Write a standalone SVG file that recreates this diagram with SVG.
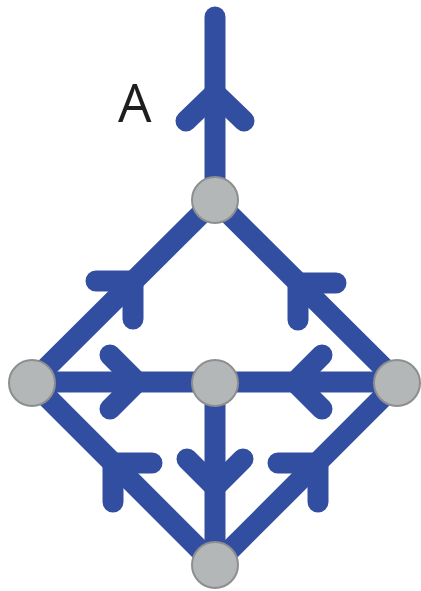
<svg xmlns="http://www.w3.org/2000/svg" width="421" height="591" viewBox="0 0 421 591">
  <style>
    .edge { stroke: #324ea1; stroke-width: 21; stroke-linecap: round; stroke-linejoin: round; fill: none; }
    .node { fill: #b4b7b8; stroke: #8c8e8f; stroke-width: 2; }
    .label { font-family: "Open Sans", "Liberation Sans", sans-serif; font-size: 53px; fill: #1e1e1e; }
  </style>
  <rect width="421" height="591" fill="#ffffff"/>
  <g id="connectors">
    <!-- outgoing line A -->
    <path class="edge" d="M215 200 L215 17"/>
    <path class="edge" d="M186 121 L215 93 L244 121"/>
    <!-- L -> T -->
    <path class="edge" d="M32 382 L215 200"/>
    <path class="edge" d="M96 281 L133 281 L133 319"/>
    <!-- R -> T -->
    <path class="edge" d="M398 382 L215 200"/>
    <path class="edge" d="M336 283 L298 283 L298 320"/>
    <!-- L -> C -->
    <path class="edge" d="M32 382 L215 382"/>
    <path class="edge" d="M110 355 L137 382 L110 409"/>
    <!-- R -> C -->
    <path class="edge" d="M398 382 L215 382"/>
    <path class="edge" d="M322 355 L295 382 L322 409"/>
    <!-- C -> B -->
    <path class="edge" d="M215 382 L215 565"/>
    <path class="edge" d="M187 459 L215 487 L243 459"/>
    <!-- B -> L -->
    <path class="edge" d="M215 565 L32 382"/>
    <path class="edge" d="M152 463 L113 463 L113 502"/>
    <!-- B -> R -->
    <path class="edge" d="M215 565 L398 382"/>
    <path class="edge" d="M278 463 L318 463 L318 502"/>
  </g>
  <text class="label" x="118" y="122">A</text>
  <g id="node-top"><circle class="node" cx="215" cy="200" r="23"/></g>
  <g id="node-left"><circle class="node" cx="32" cy="383" r="23"/></g>
  <g id="node-center"><circle class="node" cx="215" cy="383" r="23"/></g>
  <g id="node-right"><circle class="node" cx="397" cy="383" r="23"/></g>
  <g id="node-bottom"><circle class="node" cx="215" cy="565" r="23"/></g>
</svg>
